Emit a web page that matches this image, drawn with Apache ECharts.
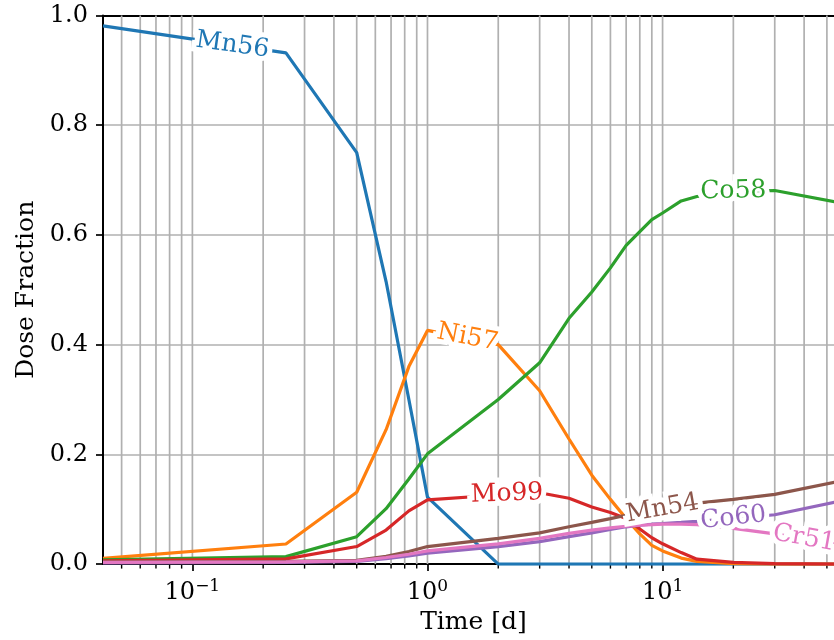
<!DOCTYPE html>
<html>
<head>
<meta charset="utf-8">
<script src="https://cdn.jsdelivr.net/npm/echarts@6.0.0/dist/echarts.min.js"></script>
<style>
  html, body { margin: 0; background: #fff; }
  #chart { width: 834px; height: 640px; }
</style>
</head>
<body>
<div id="chart"></div>
<script>
// time points [d] and dose fraction per nuclide
const days = [1 / 24, 0.25, 0.5, 2 / 3, 5 / 6, 1, 2, 3, 4, 5, 6, 7, 8, 9, 10, 12, 14, 20, 30, 60]
const mn56 = [0.981, 0.932, 0.750, 0.515, 0.300, 0.122, 0, 0, 0, 0, 0, 0, 0, 0, 0, 0, 0, 0, 0, 0]
const ni57 = [0.0105, 0.0366, 0.131, 0.245, 0.360, 0.426, 0.400, 0.316, 0.228, 0.162, 0.118, 0.083, 0.055, 0.034, 0.024, 0.011, 0.005, 0.001, 0, 0]
const co58 = [0.0076, 0.0136, 0.050, 0.101, 0.155, 0.201, 0.300, 0.367, 0.448, 0.496, 0.540, 0.581, 0.606, 0.628, 0.640, 0.662, 0.670, 0.679, 0.681, 0.657]
const mo99 = [0.006, 0.0094, 0.032, 0.062, 0.097, 0.117, 0.126, 0.130, 0.120, 0.104, 0.094, 0.083, 0.064, 0.048, 0.037, 0.021, 0.009, 0.003, 0.0008, 0]
const co60 = [0.002, 0.003, 0.005, 0.010, 0.015, 0.020, 0.032, 0.041, 0.050, 0.057, 0.063, 0.068, 0.071, 0.073, 0.074, 0.076, 0.078, 0.083, 0.090, 0.117]
const mn54 = [0.004, 0.005, 0.007, 0.014, 0.023, 0.032, 0.047, 0.057, 0.068, 0.076, 0.083, 0.089, 0.094, 0.098, 0.101, 0.106, 0.111, 0.118, 0.127, 0.153]
const cr51 = [0.003, 0.004, 0.006, 0.012, 0.018, 0.024, 0.037, 0.047, 0.056, 0.062, 0.066, 0.069, 0.071, 0.072, 0.073, 0.073, 0.072, 0.065, 0.055, 0.034]

const majorTicks = [0.1, 1, 10]
const minorTicks = [0.05, 0.06, 0.07, 0.08, 0.09, 0.2, 0.3, 0.4, 0.5, 0.6, 0.7, 0.8, 0.9,
  2, 3, 4, 5, 6, 7, 8, 9, 20, 30, 40, 50]

// visible x range (the original figure is cut off on the right)
const X_MIN = 1 / 24
const X_MAX = 53.6

const FONT = 'DejaVu Serif'
const FS_TICK = 24
const FS_NAME = 25
const FS_LABEL = 25

// inline line labels: [x, y] in data units + angle
const nuclides = [
  { name: 'Mn56', data: mn56, color: '#1f77b4', at: [0.148, 0.946], rot: -8 },
  { name: 'Ni57', data: ni57, color: '#ff7f0e', at: [1.48, 0.413], rot: -11 },
  { name: 'Co58', data: co58, color: '#2ca02c', at: [20, 0.680], rot: 1 },
  { name: 'Mo99', data: mo99, color: '#d62728', at: [2.18, 0.128], rot: 2 },
  { name: 'Co60', data: co60, color: '#9467bd', at: [20, 0.084], rot: 6 },
  { name: 'Mn54', data: mn54, color: '#8c564b', at: [10, 0.101], rot: 10 },
  { name: 'Cr51', data: cr51, color: '#e377c2', at: [40, 0.047], rot: -10 },
]

const sup = { '-': '\u2212' }

const chart = echarts.init(document.getElementById('chart'), null, { renderer: 'canvas' })

const lineSeries = nuclides.map(n => ({
  name: n.name,
  type: 'line',
  data: days.map((d, i) => [d, n.data[i]]),
  showSymbol: false,
  symbol: 'none',
  clip: true,
  lineStyle: { color: n.color, width: 3.2 },
  itemStyle: { color: n.color },
  z: 2,
  markPoint: {
    symbol: 'circle',
    symbolSize: 0,
    itemStyle: { color: 'rgba(0,0,0,0)' },
    z: 5,
    data: [{
      coord: n.at,
      label: {
        show: true,
        position: 'inside',
        formatter: n.name,
        rotate: n.rot,
        color: n.color,
        fontFamily: FONT,
        fontSize: FS_LABEL,
        textBorderColor: '#fff',
        textBorderWidth: 10,
      },
    }],
  },
}))

const gridLines = majorTicks.map(v => [v, 1]).concat(minorTicks.map(v => [v, 0]))

chart.setOption({
  animation: false,
  backgroundColor: '#fff',
  grid: { left: 103, top: 15.5, right: 0, bottom: 72.5 },
  xAxis: [{
    type: 'log',
    logBase: 10,
    min: X_MIN,
    max: X_MAX,
    name: 'Time [d]',
    nameLocation: 'middle',
    nameGap: 45,
    nameTextStyle: { fontFamily: FONT, fontSize: FS_NAME, color: '#000', padding: [0, 0, 0, 10] },
    axisLine: { lineStyle: { color: '#000', width: 2 } },
    axisTick: { customValues: majorTicks, length: 7, lineStyle: { color: '#000', width: 1.7 } },
    axisLabel: {
      customValues: majorTicks,
      margin: 14,
      formatter: v => {
        const e = Math.round(Math.log10(v))
        return '{b|10}{s|' + String(e).split('').map(c => sup[c] || c).join('') + '}'
      },
      rich: {
        b: { fontFamily: FONT, fontSize: FS_TICK, color: '#000', lineHeight: 27, verticalAlign: 'bottom' },
        s: { fontFamily: FONT, fontSize: 17, color: '#000', lineHeight: 27, verticalAlign: 'top', padding: [0, 0, 10, 0] },
      },
    },
    splitLine: { show: false },
  }, {
    // top spine
    type: 'value',
    position: 'top',
    min: 0,
    max: 1,
    axisLine: { show: true, lineStyle: { color: '#000', width: 2 } },
    axisTick: { show: false },
    axisLabel: { show: false },
    splitLine: { show: false },
  }],
  yAxis: {
    type: 'value',
    min: 0,
    max: 1,
    interval: 0.2,
    name: 'Dose Fraction',
    nameLocation: 'middle',
    nameGap: 63,
    nameTextStyle: { fontFamily: FONT, fontSize: FS_NAME, color: '#000' },
    axisLine: { show: true, lineStyle: { color: '#000', width: 2 } },
    axisTick: { show: true, length: 7, lineStyle: { color: '#000', width: 1.7 } },
    axisLabel: {
      margin: 15,
      fontFamily: FONT,
      fontSize: FS_TICK,
      color: '#000',
      formatter: v => v.toFixed(1),
    },
    splitLine: { show: true, lineStyle: { color: '#b0b0b0', width: 1.7 } },
  },
  series: [
    {
      // log gridlines (major + minor) and minor ticks
      type: 'custom',
      silent: true,
      clip: false,
      z: 1,
      data: gridLines,
      encode: { x: 0, y: 1 },
      renderItem(params, api) {
        const cs = params.coordSys
        const x = api.coord([api.value(0), 0])[0]
        const bottom = cs.y + cs.height
        const children = [
          { type: 'line', shape: { x1: x, y1: cs.y, x2: x, y2: bottom }, style: { stroke: '#b0b0b0', lineWidth: 1.7 } },
        ]
        if (!api.value(1)) {
          children.push({ type: 'line', shape: { x1: x, y1: bottom, x2: x, y2: bottom + 4.5 }, style: { stroke: '#000', lineWidth: 1.4 } })
        }
        return { type: 'group', children }
      },
    },
    ...lineSeries,
  ],
})
</script>
</body>
</html>
